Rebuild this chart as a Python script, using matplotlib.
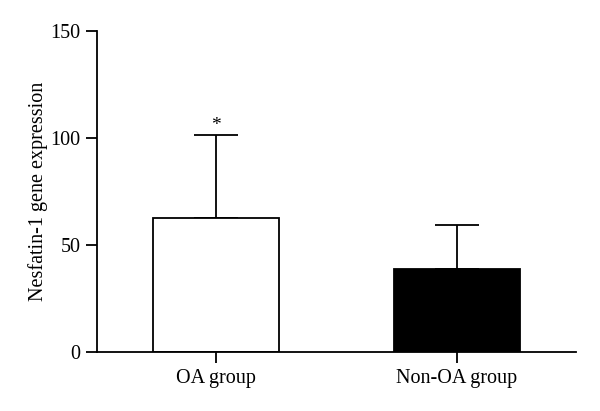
import numpy as np
import matplotlib.pyplot as plt

# dados
grupos = ['OA group', 'Non-OA group']
medias = [62.6, 38.8]
erros = [38.8, 20.5]
cores = ['white', 'black']

plt.rcParams['font.family'] = ['Liberation Serif', 'DejaVu Serif']

fig = plt.figure(figsize=(6, 4.11), dpi=100)
ax = fig.add_axes([0.1617, 0.1436, 0.7983, 0.781])

x = np.arange(len(grupos))
ax.bar(x, medias, width=0.52, color=cores, edgecolor='black', linewidth=1.3, zorder=2)
ax.errorbar(x, medias, yerr=[np.zeros(len(erros)), erros], fmt='none',
            ecolor='black', elinewidth=1.3, capsize=16, capthick=1.3, zorder=1)

# asterisco de significancia
ax.text(x[0], medias[0] + erros[0] + 0.5, '*', ha='center', va='bottom', fontsize=14)

ax.set_xlim(-0.494, 1.494)
ax.set_ylim(0, 150)
ax.set_yticks([0, 50, 100, 150])
ax.set_xticks(x)
ax.set_xticklabels(grupos)
ax.set_ylabel('Nesfatin-1 gene expression', fontsize=14.5, labelpad=1.5)

for lado in ['top', 'right']:
    ax.spines[lado].set_visible(False)
for lado in ['left', 'bottom']:
    ax.spines[lado].set_linewidth(1.3)
ax.tick_params(axis='both', direction='out', length=8, width=1.3, labelsize=14.5, pad=4)

fig.savefig('out.png', dpi=100)
